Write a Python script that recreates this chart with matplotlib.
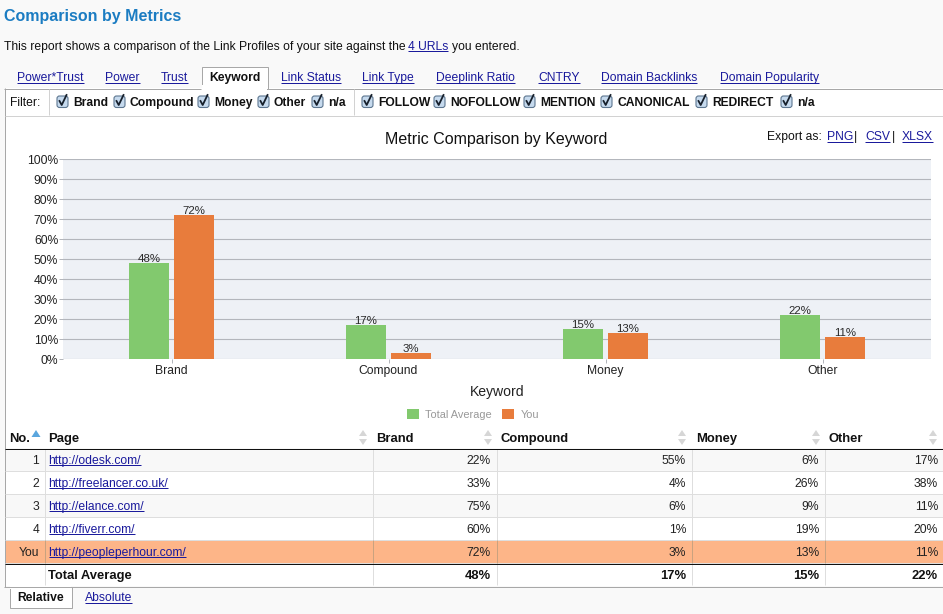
import numpy as np
from matplotlib import pyplot as plt
from matplotlib.patches import Rectangle, FancyBboxPatch
from matplotlib.ticker import FuncFormatter

plt.rcParams['font.family'] = ['Liberation Sans', 'DejaVu Sans']

W, H = 943, 614

categories = ['Brand', 'Compound', 'Money', 'Other']
total_average = [48, 17, 15, 22]
you = [72, 3, 13, 11]

pages = ['http://odesk.com/', 'http://freelancer.co.uk/', 'http://elance.com/',
         'http://fiverr.com/', 'http://peopleperhour.com/']
row_no = ['1', '2', '3', '4', 'You']
brand_col = [22, 33, 75, 60, 72]
compound_col = [55, 4, 6, 1, 3]
money_col = [6, 26, 9, 19, 13]
other_col = [17, 38, 11, 20, 11]

tabs = ['Power*Trust', 'Power', 'Trust', 'Link Status', 'Link Type', 'Deeplink Ratio',
        'CNTRY', 'Domain Backlinks', 'Domain Popularity']
tab_x = [17, 105, 161, 281, 362, 436, 538, 601, 720]
filters = ['Brand', 'Compound', 'Money', 'Other', 'n/a', 'FOLLOW', 'NOFOLLOW', 'MENTION',
           'CANONICAL', 'REDIRECT', 'n/a']
filter_x = [73, 130, 214, 274, 328, 378, 450, 540, 617, 712, 797]

LINK = '#1a1a9c'
px = 72 / 100  # font px to pt at dpi 100
ONE = 0.72     # 1 pixel line width

fig = plt.figure(figsize=(W / 100, H / 100), dpi=100, facecolor='#f9f9f9')
page = fig.add_axes([0, 0, 1, 1], zorder=0)
page.set_xlim(0, W)
page.set_ylim(H, 0)
page.axis('off')
renderer = fig.canvas.get_renderer()


def label(x, y, s, size=12.1, bold=False, color='#111111', ha='left', link=False):
    base = y + size / 3
    t = page.text(x, base, s, fontsize=size * px, color=color, ha=ha, va='baseline',
                  fontweight='bold' if bold else 'normal')
    if link:
        b = t.get_window_extent(renderer)
        page.plot([b.x0, b.x1], [base + 1.5, base + 1.5], color=color, lw=ONE,
                  solid_capstyle='butt')
    return t


def rect(x, y, w, h, fc, ec='none', lw=0.0):
    page.add_patch(Rectangle((x, y), w, h, facecolor=fc, edgecolor=ec, linewidth=lw))


def hline(y, x0, x1, color, lw=ONE):
    page.plot([x0, x1], [y, y], color=color, lw=lw, solid_capstyle='butt')


def vline(x, y0, y1, color, lw=ONE):
    page.plot([x, x], [y0, y1], color=color, lw=lw, solid_capstyle='butt')


# page header
label(4, 15.5, 'Comparison by Metrics', 16, True, '#1b7cc2')
label(4, 45.5, 'This report shows a comparison of the Link Profiles of your site against the')
label(408, 45.5, '4 URLs', color=LINK, link=True)
label(452, 45.5, 'you entered.')

# white panel + tabs
rect(4.5, 88, W, 498, 'white')
for x, s in zip(tab_x, tabs):
    label(x, 77, s, color=LINK, link=True)
hline(88.5, 4, 201, '#a8a8a8')
hline(88.5, 268, W, '#a8a8a8')
rect(201.5, 66.5, 66, 22, 'white', '#a8a8a8', ONE)
rect(202.2, 85, 64.6, 5, 'white')
label(209, 77, 'Keyword', bold=True)
vline(4.5, 88, 587, '#a8a8a8')

# filter bar
label(10, 101.5, 'Filter:')
hline(115.5, 5, W, '#d2d2d2')
vline(48.5, 89, 115, '#d2d2d2')
vline(353.5, 89, 115, '#d2d2d2')
for x, s in zip(filter_x, filters):
    label(x, 101.5, s, bold=True)
    cx = x - 10.5
    page.add_patch(FancyBboxPatch((cx - 5.5, 96), 11, 11.5, boxstyle='round,pad=0,rounding_size=2.5',
                                  facecolor='#c6daee', edgecolor='#5d7690', linewidth=0.8))
    page.plot([cx - 3, cx - 0.8, cx + 4], [101, 105, 95], color='#17202c', lw=1.3)

# chart
label(496, 139, 'Metric Comparison by Keyword', 16, ha='center')
label(767, 136, 'Export as:')
label(827, 136, 'PNG', color=LINK, link=True)
label(854, 136, '|')
label(865, 136, 'CSV', color=LINK, link=True)
label(892, 136, '|')
label(902, 136, 'XLSX', color=LINK, link=True)

ax = fig.add_axes([63 / W, (H - 359) / H, 868 / W, 200 / H], zorder=1)
ax.set_facecolor('#eef1f6')
x = np.arange(len(categories))
bw = 40 / 217
off = 22.5 / 217
b1 = ax.bar(x - off, total_average, bw, color='#82c96e', label='Total Average', zorder=3)
b2 = ax.bar(x + off, you, bw, color='#e87c3c', label='You', zorder=3)
for bars in (b1, b2):
    ax.bar_label(bars, fmt='%d%%', fontsize=11.5 * px, color='#2a2a2a', padding=-0.5, zorder=4)
ax.set_xlim(-0.5, 3.5)
ax.set_ylim(0, 100)
ax.set_yticks(np.arange(0, 101, 10))
ax.yaxis.set_major_formatter(FuncFormatter(lambda v, p: '%d%%' % v))
ax.set_xticks(x)
ax.set_xticklabels(categories)
ax.grid(axis='y', color='#b3b6bc', lw=0.8, zorder=1)
ax.set_axisbelow(True)
for s in ax.spines.values():
    s.set_visible(False)
ax.tick_params(axis='y', length=3, width=ONE, color='#b3b6bc', labelsize=12.1 * px,
               labelcolor='#222222', pad=0.5)
ax.tick_params(axis='x', length=3, width=ONE, color='#b3b6bc', labelsize=12.1 * px,
               labelcolor='#222222', pad=1.6)
ax.set_xlabel('Keyword', fontsize=14 * px, color='#222222', labelpad=5.6)
ax.legend(loc='upper center', bbox_to_anchor=(0.4723, -0.2), ncol=2, frameon=False,
          fontsize=11 * px, labelcolor='#999999', handlelength=1.09, handleheight=1.09,
          handletextpad=0.55, columnspacing=0.95)

# table
col_lines = [44.5, 372.5, 496.5, 691.5, 824.5]
col_right = [491, 686, 819, 938]
col_left = [377, 501, 697, 829]
col_names = categories
col_values = [brand_col, compound_col, money_col, other_col]
arrow_x = [363, 488, 682, 816, 933]
row_h = 23

label(9, 437.5, 'No.', 13, bold=True)
page.fill([31.5, 36, 40.5], [437, 430, 437], color='#5aa6de', lw=0)
label(48.5, 437.5, 'Page', 13, bold=True)
for cl, s in zip(col_left, col_names):
    label(cl - 0.5, 437.5, s, 13, bold=True)
for ax_ in arrow_x:
    page.fill([ax_ - 4, ax_, ax_ + 4], [436, 430, 436], color='#d6d6d6', lw=0)
    page.fill([ax_ - 4, ax_, ax_ + 4], [439, 445, 439], color='#d6d6d6', lw=0)

for i in range(len(pages)):
    y0 = 448 + i * row_h
    if i == 4:
        rect(5, y0, W, row_h, '#fdb588')
    elif i % 2 == 0:
        rect(5, y0, W, row_h, '#f8f8f8')
    yc = y0 + row_h / 2
    label(39, yc, row_no[i], ha='right', color='#222222')
    label(48.5, yc, pages[i], color=LINK, link=True)
    for r, vals in zip(col_right, col_values):
        label(r, yc, '%d%%' % vals[i], ha='right', color='#222222')
    hline(y0 + row_h - 0.5, 5, W, '#dedede')
for cx in col_lines:
    vline(cx, 449, 540, '#dedede')
    vline(cx, 540, 563, '#c9a27f')
    vline(cx, 564, 585, '#dedede')
hline(448.5, 5, W, '#111111')
hline(563.5, 5, W, '#111111')
label(48.5, 575, 'Total Average', 13, bold=True)
for r, v in zip(col_right, total_average):
    label(r, 575, '%d%%' % v, 13, bold=True, ha='right')
hline(586.5, 4, W, '#a8a8a8')

# bottom tabs
rect(9.5, 586.5, 62, 21.5, 'white', '#a8a8a8', ONE)
rect(10.2, 584.5, 60.6, 4, 'white')
label(17, 597, 'Relative', bold=True)
label(85, 597, 'Absolute', color=LINK, link=True)

fig.savefig('out.png', dpi=100, facecolor=fig.get_facecolor())
